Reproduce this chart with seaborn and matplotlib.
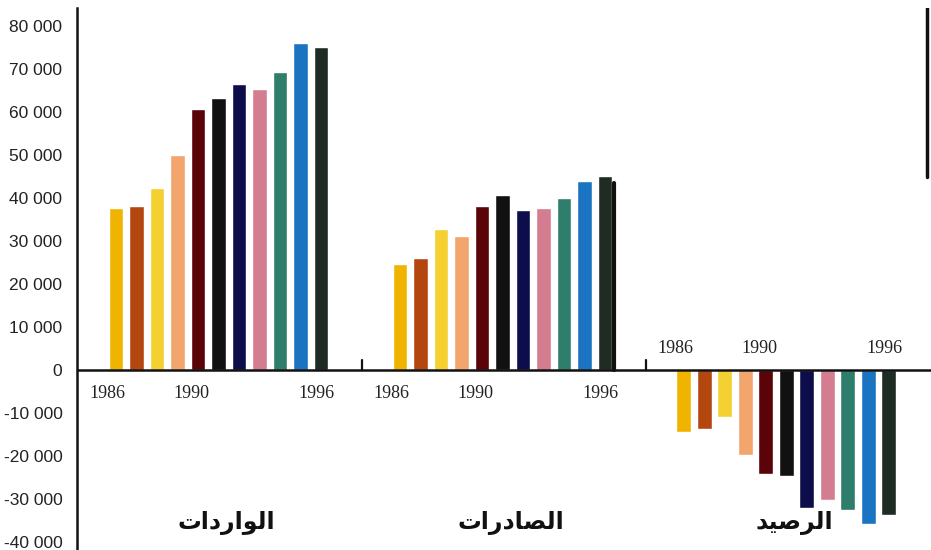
import numpy as np
import pandas as pd
import matplotlib
matplotlib.use("Agg")
import matplotlib.pyplot as plt
import seaborn as sns

# ---------------- data ----------------
years = [1986, 1987, 1988, 1989, 1990, 1991, 1992, 1993, 1994, 1995, 1996]
imports = [37600, 38250, 42400, 50000, 60600, 63200, 66400, 65300, 69400, 76000, 75100]
exports = [24650, 25980, 32800, 31070, 38200, 40700, 37300, 37650, 40000, 43900, 45100]
balance = [-14400, -13800, -11000, -19800, -24300, -24700, -32000, -30300, -32600, -35900, -33700]
group_names = ["الواردات", "الصادرات", "الرصيد"]
year_colors = ["#f0b400", "#b4470f", "#f4d030", "#f2a56c", "#5a0309", "#111111",
               "#0d0d4c", "#d47d90", "#2f7d6b", "#1b74c2", "#1f2c24"]
shown_years = ["1986", "1990", "1996"]
ytick_values = [-40000, -30000, -20000, -10000, 0, 10000, 20000, 30000, 40000,
                50000, 60000, 70000, 80000]
ytick_labels = ["-40 000", "-30 000", "-20 000", "-10 000", "0", "10 000", "20 000",
                "30 000", "40 000", "50 000", "60 000", "70 000", "80 000"]

# ------------- minimal Arabic shaping (matplotlib has no shaping) -------------
FORMS = {
    "ا": ("\uFE8D", "\uFE8E", None, None),
    "ل": ("\uFEDD", "\uFEDE", "\uFEDF", "\uFEE0"),
    "و": ("\uFEED", "\uFEEE", None, None),
    "ر": ("\uFEAD", "\uFEAE", None, None),
    "د": ("\uFEA9", "\uFEAA", None, None),
    "ت": ("\uFE95", "\uFE96", "\uFE97", "\uFE98"),
    "ص": ("\uFEB9", "\uFEBA", "\uFEBB", "\uFEBC"),
    "ي": ("\uFEF1", "\uFEF2", "\uFEF3", "\uFEF4"),
}


def shape(s):
    out = []
    for k, ch in enumerate(s):
        f = FORMS.get(ch)
        if f is None:
            out.append(ch)
            continue
        prev_j = k > 0 and s[k - 1] in FORMS and FORMS[s[k - 1]][2] is not None
        next_j = k < len(s) - 1 and f[2] is not None
        if prev_j and next_j:
            out.append(f[3])
        elif prev_j:
            out.append(f[1])
        elif next_j:
            out.append(f[2])
        else:
            out.append(f[0])
    return "".join(reversed(out))


# ------------- layout helpers -------------
GROUP_STEP = 13.85
series = [imports, exports, balance]
rows = []
for g, vals in enumerate(series):
    for i, (yr, v) in enumerate(zip(years, vals)):
        rows.append({"x": g * GROUP_STEP + i, "value": v, "year": str(yr), "group": g})
df = pd.DataFrame(rows)

sns.set_style("white")
plt.rcParams["font.family"] = ["DejaVu Sans"]

fig = plt.figure(figsize=(9.31, 5.5), dpi=100)
ax = fig.add_axes([77 / 931, 0.0, 1 - 77 / 931, 1 - 8 / 550])

palette = dict(zip([str(y) for y in years], year_colors))
sns.barplot(data=df, x="x", y="value", hue="year", palette=palette,
            native_scale=True, dodge=False, width=0.72, errorbar=None,
            legend=False, saturation=1, ax=ax)

px_per_unit = 20.5
ax.set_xlim(-(116 - 77) / px_per_unit, (931 - 116) / px_per_unit)
px_per_val = 4.3 / 1000
ax.set_ylim(-180 / px_per_val, 362 / px_per_val)

# baseline
ax.axhline(0, color="#111111", lw=1.8, zorder=5)
# small separator ticks on baseline
for g in (1, 2):
    xs = g * GROUP_STEP - 1.85
    ax.plot([xs, xs], [0, 2300], color="#111111", lw=1.6, zorder=5)
# frame-like vertical strokes
ax.plot([GROUP_STEP + 10.45] * 2, [0, 43500], color="#111111", lw=3, zorder=5)
ax.plot([39.55] * 2, [45000, 85000], color="#111111", lw=2.5, zorder=5)

# spines / ticks
for s in ("top", "right", "bottom"):
    ax.spines[s].set_visible(False)
ax.spines["left"].set_color("#111111")
ax.spines["left"].set_linewidth(1.8)
ax.set_yticks(ytick_values)
ax.set_yticklabels(ytick_labels, fontfamily="Liberation Sans", fontsize=12.5,
                   color="#222222")
ax.tick_params(axis="y", length=0, pad=10.5)
ax.set_xticks([])
ax.set_xlabel("")
ax.set_ylabel("")

# year labels
label_offsets = {"1986": -0.4, "1990": -0.3, "1996": -0.2}
for g in range(3):
    yv = -5350 if g < 2 else 4900
    for yl in shown_years:
        i = years.index(int(yl))
        ax.text(g * GROUP_STEP + i + label_offsets[yl], yv, yl,
                ha="center", va="center", fontfamily="Liberation Serif",
                fontsize=13, color="#222222")

# group titles
for g, name in enumerate(group_names):
    ax.text(g * GROUP_STEP + 5.4, -35600, shape(name), ha="center", va="center",
            fontsize=17, fontweight="bold", color="#111111",
            family=["DejaVu Sans"])

fig.savefig("out.png", dpi=100)
